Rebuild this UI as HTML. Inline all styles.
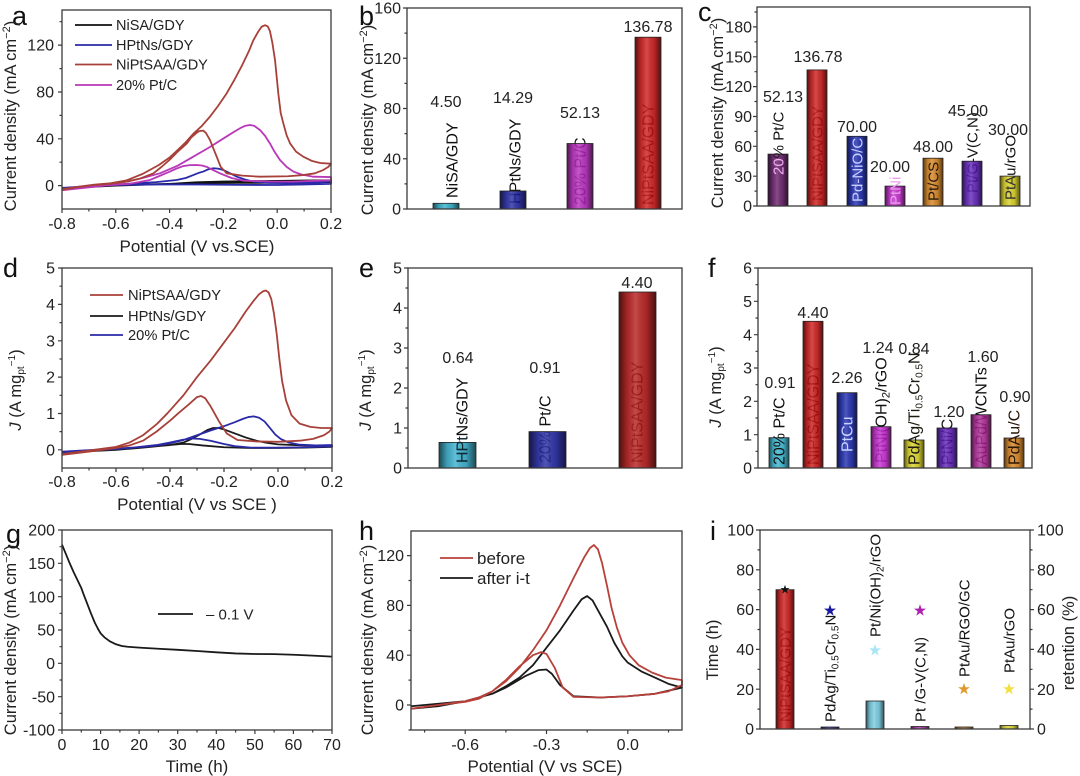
<!DOCTYPE html>
<html><head><meta charset="utf-8"><style>
html,body{margin:0;padding:0;background:#fff;}
svg{display:block;font-family:"Liberation Sans",Arial,sans-serif;}
.ax{fill:none;stroke:#3a3a3a;stroke-width:1.3}
.tk{stroke:#3a3a3a;stroke-width:1.2}
.cv{fill:none;stroke-width:1.8;vector-effect:non-scaling-stroke;stroke-linejoin:round}
.tl{font-size:16px;fill:#222}
.tt{font-size:17px;fill:#222}
.yt{font-size:16.5px;fill:#222}
.lg{font-size:15px;fill:#222}
.pl{font-size:27px;fill:#111}
.bv{font-size:16px;fill:#222;text-anchor:middle}
.bs{stroke:#222;stroke-width:.8}
</style></head><body>
<svg width="1080" height="776" viewBox="0 0 1080 776">
<defs>
<linearGradient id="sh" x1="0" x2="1" y1="0" y2="0">
<stop offset="0" stop-color="#000" stop-opacity=".6"/>
<stop offset=".22" stop-color="#000" stop-opacity=".12"/>
<stop offset=".45" stop-color="#fff" stop-opacity=".15"/>
<stop offset=".72" stop-color="#000" stop-opacity=".08"/>
<stop offset="1" stop-color="#000" stop-opacity=".6"/>
</linearGradient>
</defs>
<rect width="1080" height="776" fill="#fff"/>

<!-- ================= PANEL A ================= -->
<text class="pl" x="12" y="25">a</text>
<g transform="matrix(269,0,0,-1.1706,277.2,185.6)">
<path class="cv" stroke="#111" d="M-0.8,-2.5 L-0.7,-1 -0.6,0 -0.5,0.8 -0.4,1.5 -0.3,2.8 -0.2,3.5 -0.1,3.8 0.0,4 0.1,4.3 0.2,4.5 L0.2,3 0.1,2.8 0.0,2.5 -0.15,2.3 -0.3,2 -0.45,1.2 -0.6,0 -0.7,-1.2 -0.8,-2.5"/>
<path class="cv" stroke="#2a2aa8" d="M-0.8,-2 L-0.7,-0.5 -0.56,1.5 -0.45,3 -0.374,4.8 -0.34,6.5 -0.312,9 -0.29,11 -0.275,12 -0.255,14 -0.237,14.8 -0.22,14.5 -0.2,13.3 -0.175,10.5 -0.15,7.6 -0.12,5.2 -0.089,3.4 -0.03,2.3 0.06,2 0.14,2.6 0.2,3.4 L0.2,1.5 0.1,1 0.0,0.5 -0.15,0.6 -0.3,1 -0.45,1 -0.6,0.5 -0.7,-0.8 -0.8,-2"/>
<path class="cv" stroke="#b838b8" d="M-0.8,-4 L-0.7,-1 -0.62,1.5 -0.56,3.4 -0.5,6.5 -0.436,10.5 -0.37,17 -0.312,24.7 -0.25,33 -0.188,42 -0.16,46 -0.138,49 -0.12,51 -0.101,51.8 -0.085,51 -0.064,47.5 -0.045,42.5 -0.027,36 -0.01,29 0.01,22 0.035,16 0.06,12 0.09,9.5 0.134,7.6 0.2,7.3 L0.2,4.5 0.13,4 0.06,3.4 -0.03,3.5 -0.126,4.2 -0.17,6.5 -0.213,10.5 -0.24,13.5 -0.262,16 -0.28,17.2 -0.3,17.6 -0.325,17.5 -0.349,16.7 -0.375,14.5 -0.4,11.9 -0.44,8 -0.473,4.8 -0.55,1.5 -0.62,0.5 -0.7,-1.5 -0.8,-4"/>
<path class="cv" stroke="#a8403a" d="M-0.8,-3 L-0.74,-1 -0.68,0.8 -0.62,2 -0.56,4.5 -0.5,10 -0.44,17.6 -0.4,24 -0.37,30.4 -0.34,37 -0.31,44.7 -0.28,51 -0.25,58.9 -0.22,68 -0.19,78 -0.16,90 -0.13,103 -0.105,115 -0.089,124 -0.072,131 -0.058,135.7 -0.045,137 -0.035,136 -0.027,132 -0.018,122 -0.008,107 0.004,79 0.013,62 0.023,53 0.035,43 0.048,36 0.07,29 0.097,24.7 0.13,21 0.16,19.3 0.2,18.7 L0.19,16 0.171,13.3 0.14,10.5 0.097,9 0.04,8 -0.064,7.6 -0.13,8.5 -0.188,10.5 -0.21,16 -0.225,24.7 -0.25,39 -0.265,45 -0.275,47 -0.29,46.5 -0.3,45 -0.32,41 -0.336,36 -0.37,29 -0.4,22 -0.43,16 -0.46,10.5 -0.51,6 -0.56,3.4 -0.62,1.5 -0.684,0.5 -0.75,-1.5 -0.8,-3.8"/>
</g>
<g stroke-width="1.7">
<line x1="75" y1="25" x2="112" y2="25" stroke="#111"/>
<line x1="75" y1="45" x2="112" y2="45" stroke="#2a2aa8"/>
<line x1="75" y1="64.5" x2="112" y2="64.5" stroke="#a8403a"/>
<line x1="75" y1="85" x2="112" y2="85" stroke="#b838b8"/>
</g>
<g font-size="14.5" fill="#222">
<text x="116" y="30">NiSA/GDY</text>
<text x="116" y="50">HPtNs/GDY</text>
<text x="116" y="69.5">NiPtSAA/GDY</text>
<text x="116" y="90">20% Pt/C</text>
</g>
<rect class="ax" x="62" y="10" width="269" height="199"/>
<g class="tk">
<path d="M62,209v4M115.8,209v4M169.6,209v4M223.4,209v4M277.2,209v4M331,209v4M88.9,209v2.5M142.7,209v2.5M196.5,209v2.5M250.3,209v2.5M304.1,209v2.5"/>
<path d="M62,185.6h-4M62,138.8h-4M62,92h-4M62,45.1h-4M62,162.2h-2.5M62,115.4h-2.5M62,68.6h-2.5M62,21.7h-2.5"/>
</g>
<g class="tl" text-anchor="middle">
<text x="62" y="229">-0.8</text><text x="115.8" y="229">-0.6</text><text x="169.6" y="229">-0.4</text><text x="223.4" y="229">-0.2</text><text x="277.2" y="229">0.0</text><text x="331" y="229">0.2</text>
</g>
<g class="tl" text-anchor="end">
<text x="54" y="191.2">0</text><text x="54" y="144.4">40</text><text x="54" y="97.6">80</text><text x="54" y="50.7">120</text>
</g>
<text class="tt" x="197" y="252" text-anchor="middle">Potential (V vs.SCE)</text>
<text class="yt" transform="translate(10,116) rotate(-90)" text-anchor="middle" dy=".35em">Current density (mA cm<tspan font-size="11" dy="-6">−2</tspan><tspan dy="6">)</tspan></text>

<!-- ================= PANEL B ================= -->
<text class="pl" x="359" y="25">b</text>
<g font-size="16" fill="#111">
<text transform="translate(452,198) rotate(-90)" dy=".35em">NiSA/GDY</text>
<text transform="translate(515,204) rotate(-90)" dy=".35em">HPtNs/GDY</text>
<text transform="translate(580,205) rotate(-90)" dy=".35em">20% Pt/C</text>
<text transform="translate(648,205) rotate(-90)" dy=".35em">NiPtSAA/GDY</text>
</g>
<g opacity=".86">
<rect x="433" y="203.3" width="26" height="5.7" fill="#23a8c4"/>
<rect x="500" y="191" width="26" height="18" fill="#12189a"/>
<rect x="567" y="143.5" width="26" height="65.5" fill="#b21ab8"/>
<rect x="635" y="37.2" width="26" height="171.8" fill="#c80808"/>
</g>
<g fill="url(#sh)" class="bs">
<rect x="433" y="203.3" width="26" height="5.7"/>
<rect x="500" y="191" width="26" height="18"/>
<rect x="567" y="143.5" width="26" height="65.5"/>
<rect x="635" y="37.2" width="26" height="171.8"/>
</g>
<g class="bv">
<text x="446" y="107">4.50</text><text x="513" y="103">14.29</text><text x="580" y="118">52.13</text><text x="648" y="32">136.78</text>
</g>
<rect class="ax" x="407" y="8" width="275" height="201"/>
<g class="tk">
<path d="M407,209h-4M407,158.75h-4M407,108.5h-4M407,58.25h-4M407,8h-4M407,183.9h-2.5M407,133.6h-2.5M407,83.4h-2.5M407,33.1h-2.5"/>
</g>
<g class="tl" text-anchor="end">
<text x="401" y="214.6">0</text><text x="401" y="164.3">40</text><text x="401" y="114.1">80</text><text x="401" y="63.8">120</text><text x="401" y="13.6">160</text>
</g>
<text class="yt" transform="translate(367,120) rotate(-90)" text-anchor="middle" dy=".35em">Current density (mA cm<tspan font-size="11" dy="-6">−2</tspan><tspan dy="6">)</tspan></text>

<!-- ================= PANEL C ================= -->
<text class="pl" x="698" y="21">c</text>
<g font-size="15" fill="#111">
<text transform="translate(817,201) rotate(-90)" dy=".35em">NiPtSAA/GDY</text>
<text transform="translate(972,193) rotate(-90)" dy=".35em">Pt/G-V(C,N)</text>
<text transform="translate(1010,200) rotate(-90)" dy=".35em">PtAu/rGO</text>
</g>
<g opacity=".86">
<rect x="768" y="154.1" width="20" height="51.9" fill="#5c0c5e"/>
<rect x="807" y="69.9" width="20" height="136.1" fill="#c80808"/>
<rect x="847" y="136.3" width="20" height="69.7" fill="#0c1aa8"/>
<rect x="885" y="186.1" width="20" height="19.9" fill="#c21ccc"/>
<rect x="923" y="158.2" width="20" height="47.8" fill="#d27a10"/>
<rect x="962" y="161.2" width="20" height="44.8" fill="#5412b4"/>
<rect x="1000" y="176.1" width="20" height="29.9" fill="#d6cc12"/>
</g>
<g fill="url(#sh)" class="bs">
<rect x="768" y="154.1" width="20" height="51.9"/>
<rect x="807" y="69.9" width="20" height="136.1"/>
<rect x="847" y="136.3" width="20" height="69.7"/>
<rect x="885" y="186.1" width="20" height="19.9"/>
<rect x="923" y="158.2" width="20" height="47.8"/>
<rect x="962" y="161.2" width="20" height="44.8"/>
<rect x="1000" y="176.1" width="20" height="29.9"/>
</g>
<g font-size="15">
<text transform="translate(778,175) rotate(-90)" dy=".35em"><tspan fill="#f2b0f2">20</tspan><tspan fill="#111">% Pt/C</tspan></text>
<text transform="translate(857,202) rotate(-90)" dy=".35em" fill="#c8d0ff">Pd-NiO/C</text>
<text transform="translate(895,205) rotate(-90)" dy=".35em" fill="#e8a0e8">PtNi</text>
<text transform="translate(933,201) rotate(-90)" dy=".35em" fill="#2a1a08">Pt/CS</text>
<text transform="translate(1010,200) rotate(-90)" dy=".35em" fill="#333">PtA</text>
</g>
<g class="bv">
<text x="783" y="102">52.13</text><text x="818" y="62">136.78</text><text x="857" y="132">70.00</text><text x="890" y="172">20.00</text><text x="933" y="152">48.00</text><text x="968" y="116">45.00</text><text x="1008" y="135">30.00</text>
</g>
<rect class="ax" x="757" y="7" width="273" height="199"/>
<g class="tk">
<path d="M757,206h-4M757,176.2h-4M757,146.3h-4M757,116.5h-4M757,86.6h-4M757,56.8h-4M757,26.9h-4M757,191.1h-2.5M757,161.2h-2.5M757,131.4h-2.5M757,101.5h-2.5M757,71.7h-2.5M757,41.8h-2.5M757,12h-2.5"/>
</g>
<g class="tl" text-anchor="end">
<text x="752" y="211.6">0</text><text x="752" y="181.8">30</text><text x="752" y="151.9">60</text><text x="752" y="122.1">90</text><text x="752" y="92.2">120</text><text x="752" y="62.4">150</text><text x="752" y="32.5">180</text>
</g>
<text class="yt" transform="translate(717,113) rotate(-90)" text-anchor="middle" dy=".35em">Current density (mA cm<tspan font-size="11" dy="-6">−2</tspan><tspan dy="6">)</tspan></text>

<!-- ================= PANEL D ================= -->
<text class="pl" x="3" y="277">d</text>
<g transform="matrix(270,0,0,-36.36,278,449.8)">
<path class="cv" stroke="#1a1a1a" d="M-0.8,-0.08 L-0.7,-0.03 -0.6,0.02 -0.5,0.07 -0.4,0.13 -0.35,0.2 -0.32,0.3 -0.29,0.42 -0.26,0.55 -0.24,0.6 -0.22,0.6 -0.2,0.56 -0.16,0.45 -0.12,0.34 -0.08,0.25 -0.04,0.19 0.0,0.15 0.1,0.12 0.2,0.12 L0.2,0.08 0.1,0.06 0.0,0.05 -0.1,0.05 -0.2,0.07 -0.28,0.12 -0.33,0.16 -0.36,0.16 -0.42,0.12 -0.5,0.06 -0.6,0.0 -0.7,-0.04 -0.8,-0.1"/>
<path class="cv" stroke="#2a2aa8" d="M-0.8,-0.05 L-0.7,-0.01 -0.6,0.03 -0.5,0.08 -0.45,0.12 -0.4,0.18 -0.35,0.27 -0.3,0.4 -0.25,0.53 -0.2,0.65 -0.16,0.76 -0.13,0.85 -0.11,0.9 -0.09,0.92 -0.07,0.88 -0.05,0.78 -0.03,0.6 -0.01,0.42 0.01,0.3 0.04,0.2 0.08,0.14 0.14,0.12 0.2,0.13 L0.2,0.1 0.1,0.07 0.0,0.06 -0.1,0.06 -0.16,0.1 -0.2,0.16 -0.25,0.25 -0.29,0.3 -0.32,0.31 -0.35,0.28 -0.4,0.2 -0.45,0.13 -0.55,0.05 -0.65,0.0 -0.8,-0.06"/>
<path class="cv" stroke="#a8403a" d="M-0.8,-0.12 L-0.7,-0.02 -0.6,0.08 -0.55,0.2 -0.5,0.4 -0.45,0.7 -0.41,1.0 -0.35,1.5 -0.3,2.0 -0.25,2.45 -0.2,2.95 -0.16,3.35 -0.12,3.8 -0.09,4.1 -0.07,4.28 -0.055,4.36 -0.045,4.38 -0.035,4.33 -0.025,4.15 -0.015,3.75 -0.005,3.2 0.005,2.5 0.015,1.9 0.03,1.35 0.05,0.95 0.08,0.72 0.12,0.63 0.16,0.6 0.2,0.6 L0.19,0.5 0.17,0.4 0.13,0.3 0.08,0.25 0.0,0.22 -0.08,0.23 -0.15,0.27 -0.19,0.45 -0.22,0.8 -0.25,1.2 -0.27,1.42 -0.285,1.48 -0.3,1.45 -0.33,1.25 -0.37,1.0 -0.4,0.8 -0.45,0.5 -0.5,0.25 -0.55,0.12 -0.6,0.05 -0.7,-0.05 -0.8,-0.14"/>
</g>
<g stroke-width="1.7">
<line x1="90" y1="295" x2="123" y2="295" stroke="#a8403a"/>
<line x1="90" y1="316" x2="123" y2="316" stroke="#1a1a1a"/>
<line x1="90" y1="335" x2="123" y2="335" stroke="#2a2aa8"/>
</g>
<g font-size="14.7" fill="#222">
<text x="128" y="300">NiPtSAA/GDY</text>
<text x="128" y="321">HPtNs/GDY</text>
<text x="128" y="340">20% Pt/C</text>
</g>
<rect class="ax" x="62" y="268" width="270" height="200"/>
<g class="tk">
<path d="M62,468v4M116,468v4M170,468v4M224,468v4M278,468v4M332,468v4M89,468v2.5M143,468v2.5M197,468v2.5M251,468v2.5M305,468v2.5"/>
<path d="M62,449.8h-4M62,413.5h-4M62,377.1h-4M62,340.8h-4M62,304.4h-4M62,268h-4M62,431.6h-2.5M62,395.3h-2.5M62,359h-2.5M62,322.6h-2.5M62,286.2h-2.5"/>
</g>
<g class="tl" text-anchor="middle">
<text x="62" y="487">-0.8</text><text x="116" y="487">-0.6</text><text x="170" y="487">-0.4</text><text x="224" y="487">-0.2</text><text x="278" y="487">0.0</text><text x="332" y="487">0.2</text>
</g>
<g class="tl" text-anchor="end">
<text x="55" y="455.4">0</text><text x="55" y="419.1">1</text><text x="55" y="382.7">2</text><text x="55" y="346.4">3</text><text x="55" y="310">4</text><text x="55" y="273.6">5</text>
</g>
<text class="tt" x="197" y="510" text-anchor="middle">Potential (V vs SCE )</text>
<text class="yt" transform="translate(15,390) rotate(-90)" text-anchor="middle" dy=".35em"><tspan font-style="italic">J</tspan> (A mg<tspan font-size="10" dy="3">pt</tspan><tspan font-size="10" dy="-9">−1</tspan><tspan dy="6">)</tspan></text>

<!-- ================= PANEL E ================= -->
<text class="pl" x="359" y="277">e</text>
<g font-size="16" fill="#111">
<text transform="translate(462,463) rotate(-90)" dy=".35em">HPtNs/GDY</text>
<text transform="translate(545,463) rotate(-90)" dy=".35em">20% Pt/C</text>
<text transform="translate(637,463) rotate(-90)" dy=".35em">NiPtSAA/GDY</text>
</g>
<g opacity=".86">
<rect x="439" y="442.4" width="37" height="25.6" fill="#28a8c8"/>
<rect x="529" y="431.6" width="37" height="36.4" fill="#12189a"/>
<rect x="619" y="292" width="37" height="176" fill="#b00808"/>
</g>
<g fill="url(#sh)" class="bs">
<rect x="439" y="442.4" width="37" height="25.6"/>
<rect x="529" y="431.6" width="37" height="36.4"/>
<rect x="619" y="292" width="37" height="176"/>
</g>
<text transform="translate(462,463) rotate(-90)" dy=".35em" font-size="16" fill="#102830">HPt</text>
<g class="bv" font-size="16.5">
<text x="458" y="363">0.64</text><text x="545" y="373">0.91</text><text x="637" y="288">4.40</text>
</g>
<rect class="ax" x="408" y="268" width="274" height="200"/>
<g class="tk">
<path d="M408,468h-4M408,428h-4M408,388h-4M408,348h-4M408,308h-4M408,268h-4M408,448h-2.5M408,408h-2.5M408,368h-2.5M408,328h-2.5M408,288h-2.5"/>
</g>
<g class="tl" text-anchor="end">
<text x="402" y="473.6">0</text><text x="402" y="433.6">1</text><text x="402" y="393.6">2</text><text x="402" y="353.6">3</text><text x="402" y="313.6">4</text><text x="402" y="273.6">5</text>
</g>
<text class="yt" transform="translate(365,390) rotate(-90)" text-anchor="middle" dy=".35em"><tspan font-style="italic">J</tspan> (A mg<tspan font-size="10" dy="3">pt</tspan><tspan font-size="10" dy="-9">−1</tspan><tspan dy="6">)</tspan></text>

<!-- ================= PANEL F ================= -->
<text class="pl" x="708" y="277">f</text>
<g font-size="16" fill="#111">
<text transform="translate(813,465) rotate(-90)" dy=".35em">NiPtSAA/GDY</text>
<text transform="translate(881,463) rotate(-90)" dy=".35em">PtNi(OH)<tspan font-size="11" dy="3">2</tspan><tspan dy="-3">/rGO</tspan></text>
<text transform="translate(947,465) rotate(-90)" dy=".35em">PtNi/C</text>
<text transform="translate(981,465) rotate(-90)" dy=".35em">AuPd/WCNTs</text>
</g>
<g opacity=".86">
<rect x="769" y="437.7" width="20" height="30.3" fill="#28b0cc"/>
<rect x="803" y="321.3" width="20" height="146.7" fill="#c80808"/>
<rect x="837" y="392.7" width="20" height="75.3" fill="#0c1aa8"/>
<rect x="871" y="426.7" width="20" height="41.3" fill="#c21ccc"/>
<rect x="904" y="440" width="20" height="28" fill="#d8d014"/>
<rect x="937" y="428" width="20" height="40" fill="#5412b4"/>
<rect x="971" y="414.7" width="20" height="53.3" fill="#a81a90"/>
<rect x="1004" y="438" width="20" height="30" fill="#d27a10"/>
</g>
<g fill="url(#sh)" class="bs">
<rect x="769" y="437.7" width="20" height="30.3"/>
<rect x="803" y="321.3" width="20" height="146.7"/>
<rect x="837" y="392.7" width="20" height="75.3"/>
<rect x="871" y="426.7" width="20" height="41.3"/>
<rect x="904" y="440" width="20" height="28"/>
<rect x="937" y="428" width="20" height="40"/>
<rect x="971" y="414.7" width="20" height="53.3"/>
<rect x="1004" y="438" width="20" height="30"/>
</g>
<g font-size="16">
<text transform="translate(779,465) rotate(-90)" dy=".35em" fill="#111">20% Pt/C</text>
<text transform="translate(847,452) rotate(-90)" dy=".35em" fill="#c8d4ff">PtCu</text>
<text transform="translate(914,465) rotate(-90)" dy=".35em" fill="#1a1a10">PdAg/Ti<tspan font-size="10" dy="3">0.5</tspan><tspan dy="-3">Cr</tspan><tspan font-size="10" dy="3">0.5</tspan><tspan dy="-3">N</tspan></text>
<text transform="translate(1014,465) rotate(-90)" dy=".35em" fill="#2a1606">PdAu/C</text>
</g>
<g class="bv" font-size="16.5">
<text x="780" y="388">0.91</text><text x="813" y="318">4.40</text><text x="847" y="383">2.26</text><text x="878" y="353">1.24</text><text x="914" y="354">0.84</text><text x="949" y="417">1.20</text><text x="983" y="362">1.60</text><text x="1015" y="402">0.90</text>
</g>
<rect class="ax" x="758" y="268" width="274" height="200"/>
<g class="tk">
<path d="M758,468h-4M758,434.7h-4M758,401.3h-4M758,368h-4M758,334.7h-4M758,301.3h-4M758,268h-4M758,451.3h-2.5M758,418h-2.5M758,384.7h-2.5M758,351.3h-2.5M758,318h-2.5M758,284.7h-2.5"/>
</g>
<g class="tl" text-anchor="end">
<text x="752" y="473.6">0</text><text x="752" y="440.3">1</text><text x="752" y="406.9">2</text><text x="752" y="373.6">3</text><text x="752" y="340.3">4</text><text x="752" y="306.9">5</text><text x="752" y="273.6">6</text>
</g>
<text class="yt" transform="translate(715,387) rotate(-90)" text-anchor="middle" dy=".35em"><tspan font-style="italic">J</tspan> (A mg<tspan font-size="10" dy="3">pt</tspan><tspan font-size="10" dy="-9">−1</tspan><tspan dy="6">)</tspan></text>

<!-- ================= PANEL G ================= -->
<text class="pl" x="6" y="543">g</text>
<g transform="matrix(3.857,0,0,-0.6667,62,663.3)">
<path class="cv" stroke="#1a1a1a" d="M0,178 L1,164 2,150 3,137 4,125 5,113 5.5,105 6.5,90 7.5,75 8.5,61 9.3,52 10,45 11,39 12.4,33 14,28.5 15.5,26 17,24.8 20,23.5 25,21.8 30,20.2 35,18.5 40,16.5 45,14.8 50,14 55,13.8 60,12.8 65,11.5 70,10"/>
</g>
<line x1="158" y1="614" x2="193" y2="614" stroke="#1a1a1a" stroke-width="1.7"/>
<text class="lg" x="206" y="619.5">– 0.1 V</text>
<rect class="ax" x="62" y="530" width="270" height="200"/>
<g class="tk">
<path d="M62,730v4M100.6,730v4M139.1,730v4M177.7,730v4M216.3,730v4M254.9,730v4M293.4,730v4M332,730v4M81.3,730v2.5M119.9,730v2.5M158.4,730v2.5M197,730v2.5M235.6,730v2.5M274.1,730v2.5M312.7,730v2.5"/>
<path d="M62,730h-4M62,696.7h-4M62,663.3h-4M62,630h-4M62,596.7h-4M62,563.3h-4M62,530h-4M62,713.3h-2.5M62,680h-2.5M62,646.7h-2.5M62,613.3h-2.5M62,580h-2.5M62,546.7h-2.5"/>
</g>
<g class="tl" text-anchor="middle">
<text x="62" y="750">0</text><text x="100.6" y="750">10</text><text x="139.1" y="750">20</text><text x="177.7" y="750">30</text><text x="216.3" y="750">40</text><text x="254.9" y="750">50</text><text x="293.4" y="750">60</text><text x="332" y="750">70</text>
</g>
<g class="tl" text-anchor="end">
<text x="55" y="735.6">-100</text><text x="55" y="702.3">-50</text><text x="55" y="668.9">0</text><text x="55" y="635.6">50</text><text x="55" y="602.3">100</text><text x="55" y="568.9">150</text><text x="55" y="535.6">200</text>
</g>
<text class="tt" x="197" y="772" text-anchor="middle">Time (h)</text>
<text class="yt" transform="translate(10,640) rotate(-90)" text-anchor="middle" dy=".35em">Current density (mA cm<tspan font-size="11" dy="-6">−2</tspan><tspan dy="6">)</tspan></text>

<!-- ================= PANEL H ================= -->
<text class="pl" x="359" y="540">h</text>
<g transform="matrix(271,0,0,-1.245,627.8,705)">
<path class="cv" stroke="#1a1a1a" d="M-0.8,-1 L-0.7,1 -0.6,3 -0.5,9 -0.45,15 -0.4,22 -0.35,32 -0.3,46 -0.25,60 -0.2,76 -0.17,85 -0.15,87.5 -0.13,84 -0.1,72 -0.077,63 -0.05,50 -0.02,39 0.0,34 0.05,27 0.1,22 0.15,17 0.2,14 L0.1,9 0,7 -0.1,6 -0.2,7 -0.25,16 -0.28,25 -0.3,28.5 -0.33,28 -0.38,23 -0.45,14 -0.5,9 -0.6,3 -0.7,-1 -0.8,-3"/>
<path class="cv" stroke="#b8403a" d="M-0.8,-3 L-0.7,0 -0.6,3 -0.55,6 -0.5,11 -0.45,19 -0.4,30 -0.35,44 -0.3,60 -0.25,80 -0.2,102 -0.16,119 -0.14,126 -0.125,128.5 -0.11,125 -0.095,114 -0.077,96 -0.06,78 -0.04,62 -0.02,50 0.006,40 0.04,32 0.09,26 0.14,22 0.2,20 L0.2,16 0.15,11 0.1,9 0.0,7 -0.1,6 -0.2,6.5 -0.24,14 -0.27,30 -0.3,41 -0.32,42.5 -0.35,40 -0.4,31 -0.45,20 -0.5,11 -0.55,5 -0.6,2.5 -0.7,0 -0.8,-3"/>
</g>
<g stroke-width="1.7">
<line x1="440" y1="558" x2="473" y2="558" stroke="#b8403a"/>
<line x1="440" y1="578" x2="473" y2="578" stroke="#1a1a1a"/>
</g>
<g font-size="17" fill="#222">
<text x="477" y="564">before</text>
<text x="477" y="584">after i-t</text>
</g>
<rect class="ax" x="411" y="531" width="271" height="199"/>
<g class="tk">
<path d="M465.2,730v4M546.5,730v4M627.8,730v4M424.6,730v2.5M505.9,730v2.5M587.2,730v2.5M668.5,730v2.5"/>
<path d="M411,705h-4M411,655.2h-4M411,605.4h-4M411,555.6h-4M411,730h-2.5M411,680.1h-2.5M411,630.3h-2.5M411,580.5h-2.5"/>
</g>
<g class="tl" text-anchor="middle">
<text x="465.2" y="750">-0.6</text><text x="546.5" y="750">-0.3</text><text x="627.8" y="750">0.0</text>
</g>
<g class="tl" text-anchor="end">
<text x="404" y="710.6">0</text><text x="404" y="660.8">40</text><text x="404" y="611">80</text><text x="404" y="561.2">120</text>
</g>
<text class="tt" x="545" y="772" text-anchor="middle">Potential (V vs SCE)</text>
<text class="yt" transform="translate(367,640) rotate(-90)" text-anchor="middle" dy=".35em">Current density (mA cm<tspan font-size="11" dy="-6">−2</tspan><tspan dy="6">)</tspan></text>

<!-- ================= PANEL I ================= -->
<text class="pl" x="710" y="540">i</text>
<text transform="translate(785,722) rotate(-90)" dy=".35em" font-size="15" fill="#111">NiPtSAA/GDY</text>
<g opacity=".86">
<rect x="776" y="589.7" width="18" height="139.3" fill="#c80808"/>
<rect x="821" y="727" width="18" height="2" fill="#1a1a80"/>
<rect x="866" y="701" width="18" height="28" fill="#6cc8e0"/>
<rect x="911" y="726.5" width="18" height="2.5" fill="#a020a0"/>
<rect x="955" y="727" width="18" height="2" fill="#b07020"/>
<rect x="1000" y="725.5" width="18" height="3.5" fill="#d8d020"/>
</g>
<g fill="url(#sh)" class="bs">
<rect x="776" y="589.7" width="18" height="139.3"/>
<rect x="821" y="727" width="18" height="2"/>
<rect x="866" y="701" width="18" height="28"/>
<rect x="911" y="726.5" width="18" height="2.5"/>
<rect x="955" y="727" width="18" height="2"/>
<rect x="1000" y="725.5" width="18" height="3.5"/>
</g>
<g font-size="15" fill="#111">
<text transform="translate(830,722) rotate(-90)" dy=".35em">PdAg/Ti<tspan font-size="10" dy="3">0.5</tspan><tspan dy="-3">Cr</tspan><tspan font-size="10" dy="3">0.5</tspan><tspan dy="-3">N</tspan></text>
<text transform="translate(875,637) rotate(-90)" dy=".35em">Pt/Ni(OH)<tspan font-size="10" dy="3">2</tspan><tspan dy="-3">/rGO</tspan></text>
<text transform="translate(920,722) rotate(-90)" dy=".35em">Pt /G-V(C,N)</text>
<text transform="translate(964,677) rotate(-90)" dy=".35em">PtAu/RGO/GC</text>
<text transform="translate(1009,673) rotate(-90)" dy=".35em">PtAu/rGO</text>
</g>
<g>
<polygon transform="translate(785,589.7) scale(0.8)" fill="#111" points="0,-6 1.4,-1.9 5.7,-1.9 2.2,0.7 3.5,4.9 0,2.3 -3.5,4.9 -2.2,0.7 -5.7,-1.9 -1.4,-1.9"/>
<polygon transform="translate(830,610.6) scale(1.05)" fill="#1a1aa0" points="0,-6 1.4,-1.9 5.7,-1.9 2.2,0.7 3.5,4.9 0,2.3 -3.5,4.9 -2.2,0.7 -5.7,-1.9 -1.4,-1.9"/>
<polygon transform="translate(875,650.4) scale(1.05)" fill="#a8e6f6" points="0,-6 1.4,-1.9 5.7,-1.9 2.2,0.7 3.5,4.9 0,2.3 -3.5,4.9 -2.2,0.7 -5.7,-1.9 -1.4,-1.9"/>
<polygon transform="translate(920,610.6) scale(1.05)" fill="#b020b0" points="0,-6 1.4,-1.9 5.7,-1.9 2.2,0.7 3.5,4.9 0,2.3 -3.5,4.9 -2.2,0.7 -5.7,-1.9 -1.4,-1.9"/>
<polygon transform="translate(964,689.2) scale(1.05)" fill="#e09a30" points="0,-6 1.4,-1.9 5.7,-1.9 2.2,0.7 3.5,4.9 0,2.3 -3.5,4.9 -2.2,0.7 -5.7,-1.9 -1.4,-1.9"/>
<polygon transform="translate(1009,689.2) scale(1.05)" fill="#f2e040" points="0,-6 1.4,-1.9 5.7,-1.9 2.2,0.7 3.5,4.9 0,2.3 -3.5,4.9 -2.2,0.7 -5.7,-1.9 -1.4,-1.9"/>
</g>
<rect class="ax" x="760" y="530" width="270" height="199"/>
<g class="tk">
<path d="M760,729h-4M760,689.2h-4M760,649.4h-4M760,609.6h-4M760,569.8h-4M760,530h-4M760,709.1h-2.5M760,669.3h-2.5M760,629.5h-2.5M760,589.7h-2.5M760,549.9h-2.5"/>
<path d="M1030,729h4M1030,689.2h4M1030,649.4h4M1030,609.6h4M1030,569.8h4M1030,530h4M1030,709.1h2.5M1030,669.3h2.5M1030,629.5h2.5M1030,589.7h2.5M1030,549.9h2.5"/>
</g>
<g class="tl" text-anchor="end">
<text x="754" y="734.6">0</text><text x="754" y="694.8">20</text><text x="754" y="655">40</text><text x="754" y="615.2">60</text><text x="754" y="575.4">80</text><text x="754" y="535.6">100</text>
</g>
<g class="tl" text-anchor="start">
<text x="1037" y="734.6">0</text><text x="1037" y="694.8">20</text><text x="1037" y="655">40</text><text x="1037" y="615.2">60</text><text x="1037" y="575.4">80</text><text x="1037" y="535.6">100</text>
</g>
<text class="yt" transform="translate(712,650) rotate(-90)" text-anchor="middle" dy=".35em">Time (h)</text>
<text class="yt" transform="translate(1068,643) rotate(-90)" text-anchor="middle" dy=".35em">retention (%)</text>
</svg>
</body></html>
